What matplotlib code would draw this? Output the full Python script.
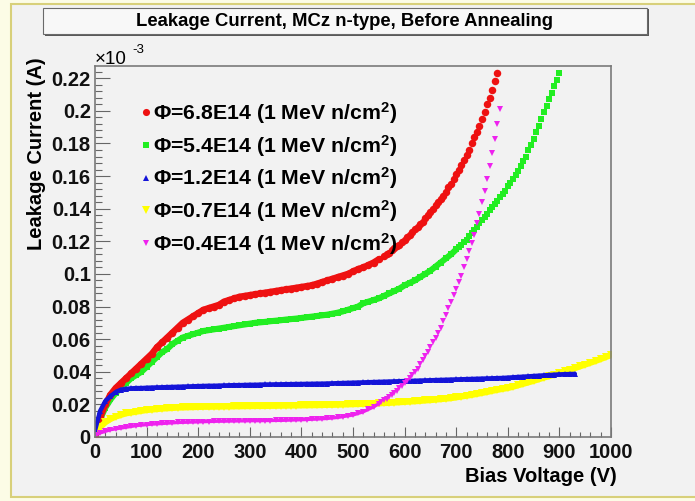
import numpy as np
import matplotlib
matplotlib.use("Agg")
import matplotlib.pyplot as plt
from matplotlib.patches import Rectangle
from matplotlib.ticker import MultipleLocator, FuncFormatter

plt.rcParams["font.family"] = ["Liberation Sans", "DejaVu Sans"]
plt.rcParams["mathtext.fontset"] = "custom"
plt.rcParams["mathtext.rm"] = "Liberation Sans:bold"
plt.rcParams["mathtext.it"] = "Liberation Sans:bold"
plt.rcParams["mathtext.bf"] = "Liberation Sans:bold"

# ---------------- data (current in units of 1e-3 A) ----------------
labels = [
    "Φ=6.8E14 (1 MeV n/cm$^{2}$)",
    "Φ=5.4E14 (1 MeV n/cm$^{2}$)",
    "Φ=1.2E14 (1 MeV n/cm$^{2}$)",
    "Φ=0.7E14 (1 MeV n/cm$^{2}$)",
    "Φ=0.4E14 (1 MeV n/cm$^{2}$)",
]

# 6.8E14: 0-550 V every 10 V, 560-780 V every 5 V
red_v_lo = np.arange(0, 551, 10)
red_i_lo = [
    0.000, 0.012, 0.020, 0.026, 0.030, 0.033, 0.036, 0.039, 0.042, 0.045,
    0.048, 0.051, 0.055, 0.058, 0.061, 0.064, 0.067, 0.070, 0.072, 0.074,
    0.076, 0.078, 0.079, 0.080, 0.081, 0.083, 0.084, 0.085, 0.086, 0.0865,
    0.087, 0.0875, 0.088, 0.0885, 0.089, 0.0895, 0.090, 0.0905, 0.091, 0.0915,
    0.092, 0.0925, 0.093, 0.094, 0.095, 0.096, 0.097, 0.098, 0.099, 0.100,
    0.1015, 0.103, 0.104, 0.1055, 0.107, 0.109,
]
red_v_hi = np.arange(560, 781, 5)
red_i_hi = [
    0.111, 0.112, 0.113, 0.1145, 0.116, 0.117, 0.118, 0.1195, 0.121, 0.1225,
    0.124, 0.126, 0.1275, 0.129, 0.1305, 0.132, 0.134, 0.136, 0.138, 0.140,
    0.142, 0.144, 0.146, 0.148, 0.150, 0.153, 0.155, 0.158, 0.161, 0.164,
    0.167, 0.170, 0.173, 0.176, 0.180, 0.184, 0.187, 0.191, 0.195, 0.199,
    0.204, 0.208, 0.213, 0.218, 0.223,
]

# 5.4E14: 0-700 V every 10 V, 705-900 V every 5 V
green_v_lo = np.arange(0, 701, 10)
green_i_lo = [
    0.000, 0.011, 0.018, 0.023, 0.027, 0.030, 0.033, 0.036, 0.038, 0.040,
    0.043, 0.046, 0.049, 0.052, 0.054, 0.057, 0.059, 0.061, 0.062, 0.063,
    0.064, 0.065, 0.0655, 0.066, 0.0665, 0.067, 0.0675, 0.068, 0.0685, 0.069,
    0.0695, 0.070, 0.0703, 0.0706, 0.071, 0.0713, 0.0716, 0.072, 0.0723, 0.0726,
    0.073, 0.0734, 0.0738, 0.0742, 0.0746, 0.075, 0.0756, 0.0762, 0.077, 0.078,
    0.079, 0.080, 0.082, 0.083, 0.084, 0.085, 0.0865, 0.088, 0.0895, 0.091,
    0.093, 0.0945, 0.096, 0.098, 0.100, 0.102, 0.1045, 0.107, 0.1095, 0.112,
    0.115,
]
green_v_hi = np.arange(705, 901, 5)
green_i_hi = [
    0.1165, 0.118, 0.1195, 0.121, 0.123, 0.125, 0.127, 0.129, 0.131, 0.133,
    0.135, 0.137, 0.139, 0.141, 0.143, 0.145, 0.147, 0.149, 0.151, 0.154,
    0.156, 0.158, 0.1605, 0.163, 0.166, 0.169, 0.172, 0.176, 0.179, 0.183,
    0.187, 0.191, 0.195, 0.199, 0.203, 0.207, 0.211, 0.215, 0.219, 0.223,
]

# 1.2E14: 0-930 V every 10 V
blue_v = np.arange(0, 931, 10)
blue_i = [
    0.0040, 0.0160, 0.0220, 0.0250, 0.0275, 0.0290, 0.0295, 0.0298, 0.0300, 0.0300,
    0.0302, 0.0303, 0.0304, 0.0305, 0.0306, 0.0307, 0.0308, 0.0309, 0.0310, 0.0311,
    0.0312, 0.0313, 0.0314, 0.0314, 0.0315, 0.0316, 0.0317, 0.0318, 0.0318, 0.0319,
    0.0320, 0.0320, 0.0321, 0.0322, 0.0322, 0.0323, 0.0323, 0.0324, 0.0324, 0.0325,
    0.0325, 0.0326, 0.0326, 0.0327, 0.0327, 0.0328, 0.0329, 0.0330, 0.0331, 0.0332,
    0.0333, 0.0334, 0.0335, 0.0336, 0.0337, 0.0338, 0.0339, 0.0340, 0.0341, 0.0342,
    0.0343, 0.0344, 0.0345, 0.0346, 0.0347, 0.0348, 0.0349, 0.0350, 0.0351, 0.0352,
    0.0353, 0.0354, 0.0355, 0.0356, 0.0357, 0.0358, 0.0359, 0.0360, 0.0361, 0.0362,
    0.0364, 0.0366, 0.0368, 0.0370, 0.0372, 0.0374, 0.0376, 0.0378, 0.0380, 0.0382,
    0.0384, 0.0385, 0.0386, 0.0387,
]

# 0.7E14: 0-1000 V every 10 V
yellow_v = np.arange(0, 1001, 10)
yellow_i = [
    0.0030, 0.0060, 0.0090, 0.0110, 0.0125, 0.0135, 0.0145, 0.0150, 0.0155, 0.0160,
    0.0165, 0.0168, 0.0171, 0.0174, 0.0176, 0.0178, 0.0180, 0.0181, 0.0182, 0.0183,
    0.0184, 0.0185, 0.0185, 0.0186, 0.0186, 0.0187, 0.0187, 0.0188, 0.0188, 0.0189,
    0.0189, 0.0190, 0.0190, 0.0190, 0.0191, 0.0191, 0.0192, 0.0192, 0.0193, 0.0193,
    0.0194, 0.0194, 0.0195, 0.0195, 0.0196, 0.0197, 0.0197, 0.0198, 0.0199, 0.0200,
    0.0201, 0.0202, 0.0203, 0.0204, 0.0205, 0.0206, 0.0208, 0.0209, 0.0211, 0.0213,
    0.0215, 0.0217, 0.0219, 0.0221, 0.0224, 0.0226, 0.0229, 0.0232, 0.0235, 0.0238,
    0.0243, 0.0248, 0.0253, 0.0258, 0.0264, 0.0270, 0.0276, 0.0283, 0.0289, 0.0295,
    0.0300, 0.0308, 0.0317, 0.0326, 0.0335, 0.0344, 0.0354, 0.0364, 0.0373, 0.0383,
    0.0392, 0.0402, 0.0412, 0.0422, 0.0433, 0.0444, 0.0455, 0.0466, 0.0478, 0.0490,
    0.0502,
]

# 0.4E14: 0-550 V every 10 V, 555-785 V every 5 V
magenta_v_lo = np.arange(0, 551, 10)
magenta_i_lo = [
    0.0010, 0.0025, 0.0035, 0.0045, 0.0050, 0.0055, 0.0060, 0.0065, 0.0070, 0.0073,
    0.0076, 0.0079, 0.0081, 0.0083, 0.0085, 0.0087, 0.0089, 0.0090, 0.0091, 0.0092,
    0.0093, 0.0094, 0.0095, 0.0096, 0.0097, 0.0097, 0.0098, 0.0098, 0.0099, 0.0099,
    0.0100, 0.0100, 0.0100, 0.0101, 0.0101, 0.0102, 0.0102, 0.0103, 0.0104, 0.0105,
    0.0106, 0.0107, 0.0109, 0.0110, 0.0112, 0.0114, 0.0117, 0.0120, 0.0125, 0.0130,
    0.0135, 0.0145, 0.0155, 0.0170, 0.0185, 0.0205,
]
magenta_v_hi = np.arange(555, 786, 5)
magenta_i_hi = [
    0.0215, 0.0225, 0.0235, 0.0245, 0.0260, 0.0270, 0.0285, 0.0300, 0.0315, 0.0330,
    0.0345, 0.0360, 0.0380, 0.0400, 0.0420, 0.0445, 0.0470, 0.0495, 0.0520, 0.0550,
    0.0580, 0.0610, 0.0640, 0.0670, 0.0710, 0.0750, 0.0790, 0.0830, 0.0870, 0.0910,
    0.0950, 0.0990, 0.1040, 0.1090, 0.1140, 0.1190, 0.1240, 0.1310, 0.1370, 0.1440,
    0.1510, 0.1580, 0.1660, 0.1740, 0.1830, 0.1920, 0.2010,
]

# ---------------- figure ----------------
W, H = 695, 501
fig = plt.figure(figsize=(W / 100, H / 100), dpi=100)
fig.patch.set_facecolor("#fcfce6")

def fx(px):
    return px / W

def fy(py):
    return 1 - py / H

# canvas area with its yellow frame
fig.add_artist(Rectangle((fx(11), fy(497)), 1.0, fy(4) - fy(497),
                         transform=fig.transFigure, facecolor="#f2f2f2",
                         edgecolor="#d8d07a", lw=1.5, zorder=0))

# title box with drop shadow
fig.add_artist(Rectangle((fx(45), fy(36)), fx(604), fy(9) - fy(36),
                         transform=fig.transFigure, facecolor="#5a5a5a",
                         edgecolor="none", zorder=1))
fig.add_artist(Rectangle((fx(43), fy(34)), fx(604), fy(8) - fy(34),
                         transform=fig.transFigure, facecolor="#f8f8f8",
                         edgecolor="#6a6a6a", lw=0.8, zorder=2))
fig.text(fx(345), fy(21), "Leakage Current, MCz n-type, Before Annealing",
         ha="center", va="center", fontsize=13.3, fontweight="bold", zorder=3)

ax = fig.add_axes([fx(95), fy(437), fx(516), fy(66) - fy(437)])
ax.set_facecolor("#f2f2f2")

# each series: densely sampled segments (drawn as a continuous band of
# markers) and sparsely sampled steep segments (individual markers)
series = [
    ([(red_v_lo, red_i_lo)], [(red_v_hi, red_i_hi)], "o", "#ee1111", 5.4, 4.6),
    ([(green_v_lo, green_i_lo)], [(green_v_hi, green_i_hi)], "s", "#22ee22", 4.8, 4.4),
    ([(blue_v, blue_i)], [], "^", "#1414d8", 4.6, 3.2),
    ([(yellow_v, yellow_i)], [], "v", "#ffff00", 5.6, 4.4),
    ([(magenta_v_lo, magenta_i_lo)], [(magenta_v_hi, magenta_i_hi)], "v", "#ee22ee", 3.8, 2.4),
]
draw_order = [1, 0, 3, 2, 4]
handles = [None] * 5
for k in draw_order:
    dense, sparse, m, c, s, lw = series[k]
    for v, i in dense:
        (h,) = ax.plot(v, i, ls="-", lw=lw, marker=m, ms=s, color=c, mew=0,
                       solid_capstyle="round", solid_joinstyle="round")
    for v, i in sparse:
        ax.plot(v, i, ls="none", marker=m, ms=s, color=c, mew=0)
    handles[k] = ax.plot([], [], ls="none", marker=m, ms=s, color=c, mew=0)[0]

ax.set_xlim(0, 1000)
ax.set_ylim(0, 0.2275)

ax.xaxis.set_major_locator(MultipleLocator(100))
ax.xaxis.set_minor_locator(MultipleLocator(20))
ax.yaxis.set_major_locator(MultipleLocator(0.02))
ax.yaxis.set_minor_locator(MultipleLocator(0.004))
ax.yaxis.set_major_formatter(FuncFormatter(lambda v, p: "%g" % round(v, 4)))
ax.xaxis.set_major_formatter(FuncFormatter(lambda v, p: "%d" % round(v)))

ax.tick_params(axis="both", which="both", direction="in", colors="#666666",
               labelcolor="#111111", width=0.8, top=False, right=False,
               labelsize=14.5)
ax.tick_params(axis="y", which="major", length=10.8, pad=3)
ax.tick_params(axis="y", which="minor", length=5)
ax.tick_params(axis="x", which="major", length=7.2, pad=4)
ax.tick_params(axis="x", which="minor", length=3.6)
for lab in ax.get_xticklabels() + ax.get_yticklabels():
    lab.set_fontweight("bold")

for sp in ax.spines.values():
    sp.set_color("#7a7a7a")
    sp.set_linewidth(1.2)

# axis titles and exponent
fig.text(fx(37), fy(57), "Leakage Current (A)", rotation=90, ha="center",
         va="top", fontsize=14.5, fontweight="bold")
fig.text(fx(617), fy(477), "Bias Voltage (V)", ha="right", va="center",
         fontsize=14.5, fontweight="bold")
fig.text(fx(95), fy(64), "×10", ha="left", va="baseline", fontsize=13.5)
fig.text(fx(132), fy(53), "-3", ha="left", va="baseline", fontsize=9.5)

leg = ax.legend(handles, labels, loc="upper left",
                bbox_to_anchor=((142 - 95) / 516, (437 - 100) / 371),
                frameon=False, fontsize=15.3, handlelength=0.4,
                handletextpad=0.12, labelspacing=0.32, borderpad=0,
                borderaxespad=0, markerscale=0.95)
for t in leg.get_texts():
    t.set_fontweight("bold")

fig.savefig("out.png", dpi=100, facecolor=fig.get_facecolor())
